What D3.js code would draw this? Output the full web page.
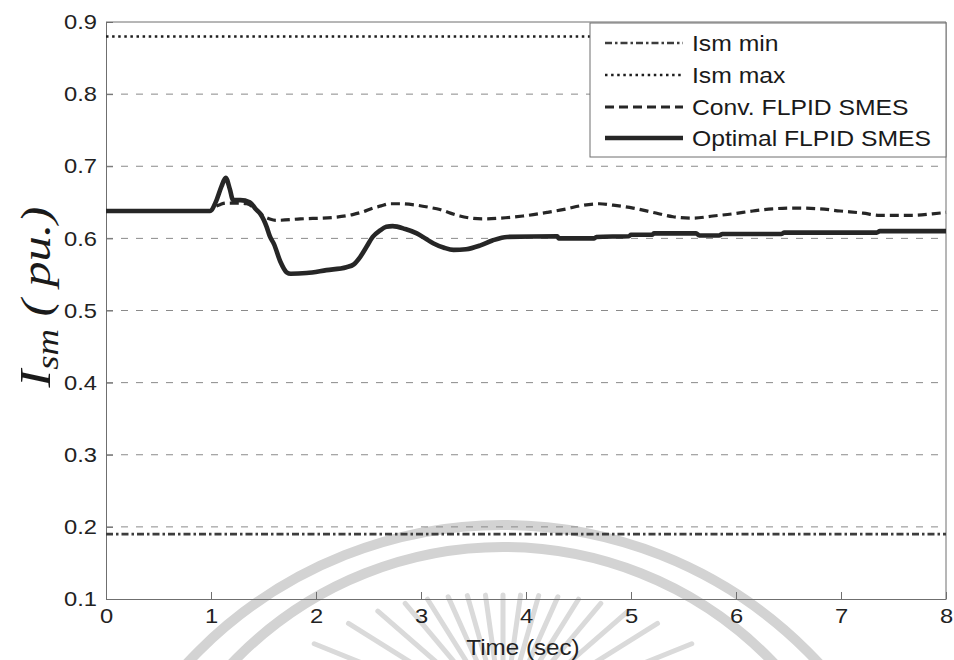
<!DOCTYPE html>
<html>
<head>
<meta charset="utf-8">
<script src="https://cdn.jsdelivr.net/npm/d3@7"></script>
<style>
  html, body { margin: 0; padding: 0; background: #fff; }
  svg { display: block; }
</style>
</head>
<body>
<svg id="chart" width="954" height="660"></svg>
<script>
// Time axis samples (sec) and SMES current (pu.) for each controller
const optTime = [0, 0.99, 1.05, 1.10, 1.14, 1.18, 1.21, 1.28, 1.37, 1.43, 1.47, 1.53, 1.56, 1.60, 1.66, 1.72, 1.76, 1.91, 2.10, 2.29, 2.36, 2.42, 2.48, 2.54, 2.61, 2.67, 2.73, 2.85, 2.96, 3.05, 3.12, 3.22, 3.31, 3.43, 3.56, 3.68, 3.82, 4.30, 4.31, 4.65, 4.67, 4.98, 5.00, 5.20, 5.22, 5.62, 5.65, 5.84, 5.87, 6.43, 6.46, 7.34, 7.37, 8.00];
const optValue = [0.638, 0.638, 0.652, 0.672, 0.684, 0.668, 0.653, 0.653, 0.650, 0.640, 0.634, 0.616, 0.603, 0.592, 0.568, 0.553, 0.551, 0.552, 0.556, 0.560, 0.564, 0.574, 0.588, 0.602, 0.611, 0.616, 0.617, 0.613, 0.607, 0.599, 0.593, 0.587, 0.584, 0.585, 0.590, 0.597, 0.602, 0.603, 0.600, 0.600, 0.602, 0.603, 0.605, 0.605, 0.607, 0.607, 0.604, 0.604, 0.606, 0.606, 0.608, 0.608, 0.610, 0.610];

const convTime = [0, 0.99, 1.03, 1.09, 1.14, 1.27, 1.34, 1.43, 1.50, 1.56, 1.62, 1.85, 2.16, 2.35, 2.45, 2.54, 2.62, 2.70, 2.80, 2.96, 3.08, 3.18, 3.28, 3.37, 3.48, 3.59, 3.75, 3.97, 4.20, 4.39, 4.51, 4.70, 4.83, 5.02, 5.21, 5.40, 5.59, 5.78, 5.97, 6.16, 6.35, 6.58, 6.80, 6.99, 7.21, 7.37, 7.69, 7.87, 8.00];
const convValue = [0.638, 0.638, 0.643, 0.647, 0.649, 0.649, 0.648, 0.640, 0.631, 0.627, 0.625, 0.627, 0.629, 0.633, 0.637, 0.642, 0.645, 0.648, 0.648, 0.646, 0.643, 0.640, 0.635, 0.631, 0.628, 0.627, 0.628, 0.631, 0.636, 0.641, 0.645, 0.648, 0.646, 0.642, 0.636, 0.630, 0.628, 0.631, 0.634, 0.638, 0.641, 0.642, 0.641, 0.638, 0.635, 0.632, 0.632, 0.634, 0.636];

const limitTime = [0, 8];
const ismMin = [0.19, 0.19];
const ismMax = [0.88, 0.88];

const xTicks = [0, 1, 2, 3, 4, 5, 6, 7, 8];
const yTicks = [0.1, 0.2, 0.3, 0.4, 0.5, 0.6, 0.7, 0.8, 0.9];
const gridTicks = [0.2, 0.3, 0.4, 0.5, 0.6, 0.7, 0.8];

const legendLabels = ["Ism min", "Ism max", "Conv. FLPID SMES", "Optimal FLPID SMES"];

// Plot frame
const W = 954, H = 660;
const plotL = 106, plotR = 946, plotT = 22, plotB = 599;

const svg = d3.select("#chart");
svg.append("rect").attr("width", W).attr("height", H).attr("fill", "#fff");

// Faint university emblem behind the plot
const emblem = svg.append("g").attr("fill", "none").attr("stroke", "#d3d3d3");
emblem.append("circle").attr("cx", 503).attr("cy", 955).attr("r", 430).attr("stroke-width", 10);
emblem.append("circle").attr("cx", 503).attr("cy", 921).attr("r", 374).attr("stroke-width", 10);
const rayAngles = [-68, -58, -49, -40, -32, -24, -16, -8, 0, 8, 16, 24, 32, 40, 49, 58, 68];
rayAngles.forEach(a => {
  const th = a * Math.PI / 180;
  const r2 = 125 + 0.017 * a * a;
  const r1 = r2 - 85;
  emblem.append("line")
    .attr("x1", 503 + r1 * Math.sin(th)).attr("y1", 720 - r1 * Math.cos(th))
    .attr("x2", 503 + r2 * Math.sin(th)).attr("y2", 720 - r2 * Math.cos(th))
    .attr("stroke-width", 5).attr("stroke-linecap", "round").attr("stroke", "#dadada");
});

const x = d3.scaleLinear().domain([0, 8]).range([plotL, plotR]);
const y = d3.scaleLinear().domain([0.1, 0.9]).range([plotB, plotT]);

const font = "'Liberation Sans', Arial, sans-serif";

// Horizontal dashed grid
svg.append("g").selectAll("line").data(gridTicks).join("line")
  .attr("x1", plotL).attr("x2", plotR)
  .attr("y1", d => y(d)).attr("y2", d => y(d))
  .attr("stroke", "#8a8a8a").attr("stroke-width", 1)
  .attr("stroke-dasharray", "7,8");

// Axes with inward ticks
const xAxis = svg.append("g").attr("transform", `translate(0,${plotB})`)
  .call(d3.axisBottom(x).tickValues(xTicks).tickFormat(d3.format("d"))
    .tickSizeInner(-7).tickSizeOuter(0).tickPadding(9));
const yAxis = svg.append("g").attr("transform", `translate(${plotL},0)`)
  .call(d3.axisLeft(y).tickValues(yTicks).tickFormat(d3.format(".1f"))
    .tickSizeInner(-7).tickSizeOuter(0).tickPadding(8));
[xAxis, yAxis].forEach(g => {
  g.select(".domain").attr("stroke", "#6f6f6f");
  g.selectAll(".tick line").attr("stroke", "#6f6f6f");
  g.selectAll(".tick text").attr("font-family", font).attr("font-size", 21).attr("fill", "#222")
    .attr("transform", "scale(1.13,1)");
});
// Box top and right
svg.append("line").attr("x1", plotL).attr("x2", plotR).attr("y1", plotT).attr("y2", plotT).attr("stroke", "#6f6f6f");
svg.append("line").attr("x1", plotR).attr("x2", plotR).attr("y1", plotT).attr("y2", plotB).attr("stroke", "#6f6f6f");

// Series
const styles = [
  { t: limitTime, v: ismMin, color: "#3d3d3d", width: 2.6, dash: "7,3,2.5,3" },
  { t: limitTime, v: ismMax, color: "#1e1e1e", width: 2.6, dash: "2.5,3.6" },
  { t: convTime, v: convValue, color: "#262626", width: 3.2, dash: "9,5" },
  { t: optTime, v: optValue, color: "#262626", width: 4.6, dash: null }
];
const line = d3.line().curve(d3.curveMonotoneX);
styles.forEach(s => {
  const pts = s.t.map((t, i) => [x(t), y(s.v[i])]);
  svg.append("path").attr("d", line(pts))
    .attr("fill", "none").attr("stroke", s.color).attr("stroke-width", s.width)
    .attr("stroke-dasharray", s.dash).attr("stroke-linejoin", "round");
});

// Legend
const lg = svg.append("g");
lg.append("rect").attr("x", 590).attr("y", 23).attr("width", 356).attr("height", 134)
  .attr("fill", "#fff").attr("stroke", "#6f6f6f").attr("stroke-width", 1);
const rowY = [43, 75, 107, 138];
legendLabels.forEach((lab, i) => {
  const s = styles[i];
  lg.append("line").attr("x1", 605).attr("x2", 683).attr("y1", rowY[i]).attr("y2", rowY[i])
    .attr("stroke", s.color).attr("stroke-width", s.width).attr("stroke-dasharray", s.dash);
  lg.append("text").attr("transform", `translate(692,${rowY[i]}) scale(1.15,1)`).attr("dy", "0.36em")
    .attr("font-family", font).attr("font-size", 21.5).attr("fill", "#1a1a1a").text(lab);
});

// Axis titles
svg.append("text").attr("transform", `translate(${(plotL + plotR) / 2 - 3},655) scale(1.1,1)`)
  .attr("text-anchor", "middle").attr("font-family", font).attr("font-size", 22)
  .attr("fill", "#222").text("Time (sec)");

const yl = svg.append("text")
  .attr("transform", "translate(50,297) rotate(-90) scale(1.18,1)")
  .attr("text-anchor", "middle")
  .attr("font-family", "'Liberation Serif', 'Times New Roman', serif")
  .attr("font-style", "italic").attr("fill", "#1a1a1a")
  .attr("xml:space", "preserve");
yl.append("tspan").attr("font-size", 45).text("I");
yl.append("tspan").attr("font-size", 31).attr("dy", 8).text("sm");
yl.append("tspan").attr("font-size", 43).attr("dy", -8).text("\u00a0( pu.)");
</script>
</body>
</html>
